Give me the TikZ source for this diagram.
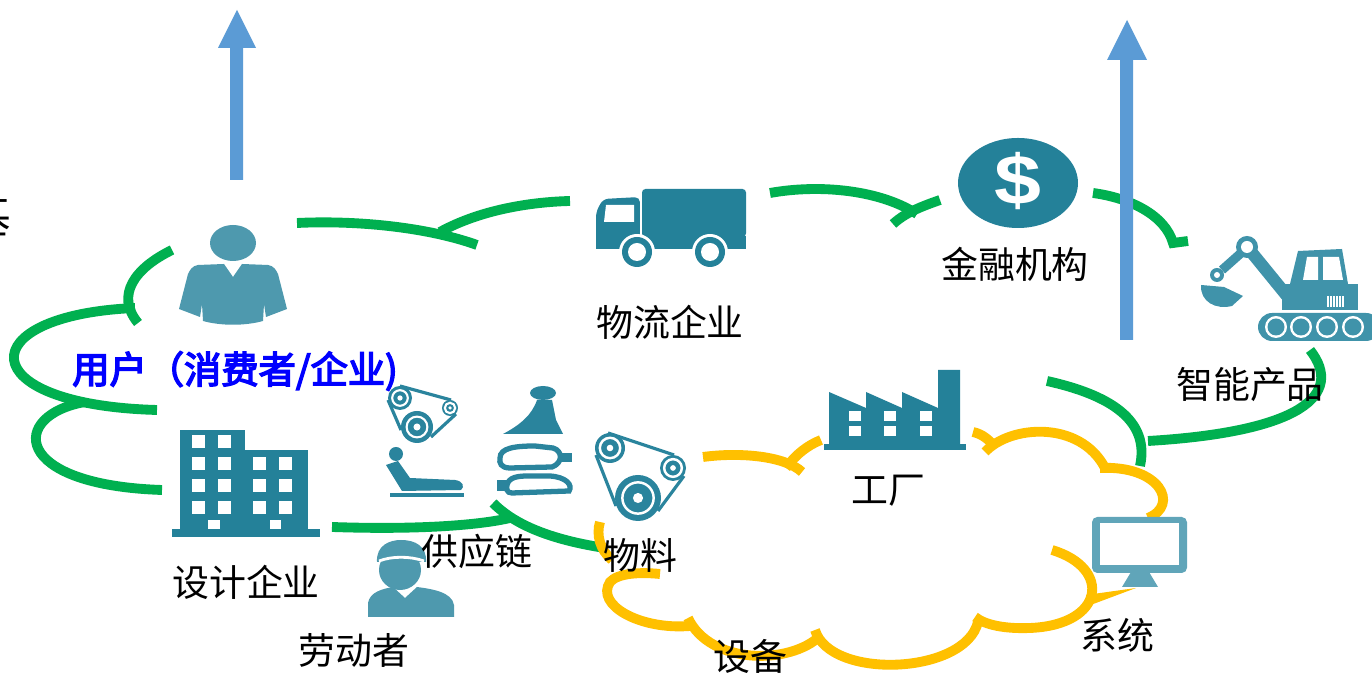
\documentclass[tikz,border=0pt]{standalone}
\usepackage{fontspec}
\newfontfamily\cjk{Noto Sans CJK SC}[AutoFakeBold=4]
\newfontfamily\dollarfont{Liberation Sans}
\definecolor{cgreen}{RGB}{0,176,80}
\definecolor{cyellow}{RGB}{255,192,0}
\definecolor{cblue}{RGB}{91,155,213}
\definecolor{ubluetext}{RGB}{0,0,255}
\definecolor{dteal}{RGB}{36,129,153}
\definecolor{personc}{RGB}{78,153,174}
\definecolor{excc}{RGB}{64,147,170}
\definecolor{monc}{RGB}{96,165,185}
\definecolor{scc}{RGB}{42,132,157}
\begin{document}
\begin{tikzpicture}[x=0.01cm,y=-0.01cm,
  greenarc/.style={draw=cgreen,line width=2.8pt},
  yellowarc/.style={draw=cyellow,line width=2.8pt},
  lbl/.style={font=\cjk\fontsize{10.5}{12}\selectfont,text=black,inner sep=0pt},
  userlbl/.style={font=\cjk\bfseries\fontsize{10.6}{12}\selectfont,text=ubluetext,inner sep=0pt},
  bluearrow/.style={fill=cblue},
  belt/.style={draw=scc,line width=0.9pt}]
\useasboundingbox (0,0) rectangle (1372,674);
\fill[white] (0,0) rectangle (1372,674);

% ---------- green outer cloud ----------
\draw[greenarc] (297,223) .. controls (360,220) and (430,228) .. (477,245);
\draw[greenarc] (440,232) .. controls (480,210) and (530,202) .. (570,201);
\draw[greenarc] (770,193) .. controls (820,184) and (880,190) .. (917,214);
\draw[greenarc] (893,224) .. controls (905,213) and (920,207) .. (940,200);
\draw[greenarc] (1093,193) .. controls (1130,198) and (1165,215) .. (1173,243) -- (1188,241);
\draw[greenarc] (172,250) .. controls (135,268) and (115,295) .. (138,323);
\draw[greenarc] (135,308) .. controls (-30,315) and (-30,405) .. (157,410);
\draw[greenarc] (85,402) .. controls (10,415) and (10,485) .. (162,490);
\draw[greenarc] (332,527) .. controls (420,530) and (480,525) .. (510,518);
\draw[greenarc] (493,503) .. controls (510,520) and (540,538) .. (605,548);
\draw[greenarc] (1310,350) .. controls (1345,395) and (1300,432) .. (1148,441);
\draw[greenarc] (1047,381) .. controls (1110,395) and (1150,420) .. (1140,466);

% ---------- yellow inner cloud ----------
\draw[yellowarc] (703,457) .. controls (740,452) and (785,456) .. (802,472);
\draw[yellowarc] (786,468) .. controls (795,455) and (808,445) .. (821,440);
\draw[yellowarc] (973,432) .. controls (982,434) and (990,440) .. (994,447);
\draw[yellowarc] (985,452) .. controls (1010,425) and (1080,420) .. (1105,468);
\draw[yellowarc] (1100,468) .. controls (1160,465) and (1180,505) .. (1148,518);
\draw[yellowarc] (1052,550) .. controls (1112,568) and (1105,625) .. (1030,628) .. controls (1005,629) and (985,625) .. (975,617);
\fill[cyellow] (1086,595) -- (1136,588) -- (1088,606) -- cycle;
\draw[yellowarc] (978,622) .. controls (965,675) and (830,680) .. (815,630);
\draw[yellowarc] (820,636) .. controls (790,665) and (710,665) .. (688,618);
\draw[yellowarc] (690,626) .. controls (640,630) and (595,605) .. (610,582) .. controls (618,573) and (640,572) .. (660,574);
\draw[yellowarc] (600,522) .. controls (596,535) and (600,550) .. (612,560);

% ---------- upward arrows ----------
\fill[bluearrow] (230,180) -- (230,48) -- (218,48) -- (237,10) -- (256,48) -- (243,48) -- (243,180) -- cycle;
\fill[bluearrow] (1120,340) -- (1120,60) -- (1107,60) -- (1127,20) -- (1147,60) -- (1133,60) -- (1133,340) -- cycle;

% ---------- user ----------
\fill[personc] (233,243) ellipse [x radius=23, y radius=18];
\fill[personc] (198,265) -- (224,264) -- (233,277) -- (242,264) -- (268,265)
  .. controls (274,266) and (276,270) .. (278,274) -- (287,309) -- (266,317) -- (264,304) -- (263,321)
  .. controls (245,326) and (221,326) .. (203,321) -- (202,304) -- (200,317) -- (179,309) -- (188,274)
  .. controls (190,270) and (192,266) .. (198,265) -- cycle;

% ---------- design company building ----------
\fill[dteal] (180,430) rectangle (245,532);
\fill[dteal] (245,450) rectangle (308,532);
\fill[dteal] (172,529) rectangle (320,537);
\foreach \yy in {435,457,479,501} \foreach \xx in {192,218} \fill[white] (\xx,\yy) rectangle ++(13,13);
\foreach \yy in {457,479,501} \foreach \xx in {253,279} \fill[white] (\xx,\yy) rectangle ++(13,13);
\fill[white] (208,520) rectangle ++(12,9);
\fill[white] (270,520) rectangle ++(11,9);

% ---------- truck ----------
\fill[dteal,rounded corners=1pt] (642,189) rectangle (746,237);
\fill[dteal] (596,236) rectangle (746,249);
\fill[dteal,rounded corners=1.5pt] (596,249) -- (596,212) -- (603,199) -- (640,197) -- (640,240) -- cycle;
\draw[white,line width=0.5pt] (641,197) -- (641,236);
\fill[white] (606,205) -- (634,205) -- (634,222) -- (604,222) -- cycle;
\foreach \xx in {637,710} {
  \fill[white] (\xx,252) circle [radius=18];
  \fill[dteal] (\xx,252) circle [radius=15];
  \fill[white] (\xx,252) circle [radius=9];
}

% ---------- finance ----------
\fill[dteal] (1018,183) ellipse [x radius=60, y radius=45];
\node[text=white,inner sep=0pt,xscale=1.2,font=\dollarfont\bfseries\fontsize{20}{20}\selectfont] (dollar) at (1018,181) {\$};

% ---------- excavator ----------
\fill[excc,rounded corners=4pt] (1258,313) rectangle (1380,341);
\foreach \xx in {1276,1301,1327,1353} {
  \fill[white] (\xx,327) circle [radius=11];
  \fill[excc] (\xx,327) circle [radius=8.5];
}
\fill[excc] (1282,284) rectangle (1358,310);
\fill[excc] (1290,284) -- (1298,251) -- (1342,249) -- (1348,284) -- cycle;
\fill[white] (1303,280) -- (1307,257) -- (1318,257) -- (1318,280) -- cycle;
\fill[white] (1323,257) -- (1339,257) -- (1343,280) -- (1323,280) -- cycle;
\foreach \xx in {1328,1331,...,1343} \draw[white,line width=0.5pt] (\xx,296) -- (\xx,307);
\draw[excc,line width=3.5pt] (1292,302) -- (1248,248);
\fill[excc] (1247,247) circle [radius=11];
\fill[white] (1247,247) circle [radius=6];
\draw[excc,line width=2.6pt] (1240,254) -- (1222,270);
\fill[excc] (1217,275) circle [radius=7];
\fill[white] (1217,275) circle [radius=3];
\fill[excc] (1201,285) .. controls (1200,302) and (1216,310) .. (1232,306) -- (1243,296) -- (1224,287) -- cycle;

% ---------- factory ----------
\fill[dteal] (829,447) -- (829,392) -- (866,408) -- (866,392) -- (902,408) -- (902,392) -- (938,408) -- (938,370) -- (960,370) -- (960,447) -- cycle;
\fill[dteal] (824,444) rectangle (966,450);
\foreach \yy in {411,426} \foreach \xx in {849,884,920} \fill[white] (\xx,\yy) rectangle ++(12,10);

% ---------- monitor ----------
\fill[monc,rounded corners=1.5pt] (1092,517) rectangle (1187,573);
\fill[white] (1100,523) rectangle (1179,565);
\fill[monc] (1131,572) -- (1149,572) -- (1158,587) -- (1122,587) -- cycle;

% ---------- supply chain parts ----------
% small belt drive
\draw[belt] (400,386) -- (451,400);
\draw[belt] (388,400) -- (401,430);
\draw[belt] (456,414) -- (431,437);
\foreach \cx/\cy/\r in {400/398/12, 450/408/8, 417/427/16} {
  \fill[scc] (\cx,\cy) circle [radius=\r];
  \draw[white,line width=0.6pt] (\cx,\cy) circle [radius=0.65*\r];
  \fill[white] (\cx,\cy) circle [radius=0.22*\r];
}
% gear knob
\fill[scc] (543,393) ellipse [x radius=13, y radius=7];
\fill[scc] (537,400) -- (552,400) -- (556,420) -- (563,434) -- (503,434) .. controls (520,425) and (532,415) .. (537,400) -- cycle;
% seat
\fill[scc] (396,454) circle [radius=7];
\fill[scc] (386,465) -- (398,461) -- (410,478) -- (455,480) .. controls (463,481) and (465,487) .. (461,490) -- (402,491) -- cycle;
\draw[scc,line width=0.9pt] (390,495) -- (464,495);
% mirrors
\draw[scc,line width=1.5pt] (500,458) .. controls (500,448) and (515,446) .. (535,446) -- (553,448) .. controls (563,451) and (563,463) .. (552,467) -- (510,468) .. controls (501,468) and (499,463) .. (500,458) -- cycle;
\fill[scc] (561,453) rectangle (572,462);
\draw[scc,line width=1.5pt] (507,485) .. controls (509,477) and (518,476) .. (528,476) -- (550,476) .. controls (566,477) and (573,485) .. (569,491) -- (512,493) .. controls (507,493) and (506,489) .. (507,485) -- cycle;
\fill[scc] (497,480) rectangle (508,491);
% large belt drive
\draw[belt] (608,433) -- (674,455);
\draw[belt] (596,455) -- (616,506);
\draw[belt] (684,476) -- (658,511);
\foreach \cx/\cy/\r in {610/448/15, 673/468/13, 638/498/23} {
  \fill[scc] (\cx,\cy) circle [radius=\r];
  \draw[white,line width=0.7pt] (\cx,\cy) circle [radius=0.68*\r];
  \fill[white] (\cx,\cy) circle [radius=0.22*\r];
}

% ---------- worker ----------
\fill[personc] (400,570) ellipse [x radius=21, y radius=20];
\fill[personc] (377,562) .. controls (376,545) and (390,540) .. (401,540) .. controls (415,540) and (427,546) .. (426,562) -- cycle;
\draw[white,line width=0.8pt] (379,561) .. controls (392,556) and (410,556) .. (424,561);
\fill[personc] (368,617) -- (368,603) .. controls (370,592) and (382,589) .. (393,587) -- (405,598) -- (417,587) .. controls (432,589) and (452,592) .. (454,605) -- (454,617) -- cycle;

% ---------- labels ----------
\node[lbl,font=\cjk\fontsize{13}{14}\selectfont] (tEdge) at (-12,216) {基};
\node[userlbl] (tUser) at (235,371) {用户（消费者/企业)};
\node[lbl] (tLogistics) at (670,322) {物流企业};
\node[lbl] (tFinance) at (1015,264) {金融机构};
\node[lbl] (tSmart) at (1250,385) {智能产品};
\node[lbl] (tFactory) at (888,491) {工厂};
\node[lbl] (tSystem) at (1117,635) {系统};
\node[lbl] (tEquip) at (750,656) {设备};
\node[lbl] (tMaterial) at (640,555) {物料};
\node[lbl] (tSupply) at (477,551) {供应链};
\node[lbl] (tDesign) at (246,582) {设计企业};
\node[lbl] (tWorker) at (354,650) {劳动者};
\end{tikzpicture}
\end{document}
